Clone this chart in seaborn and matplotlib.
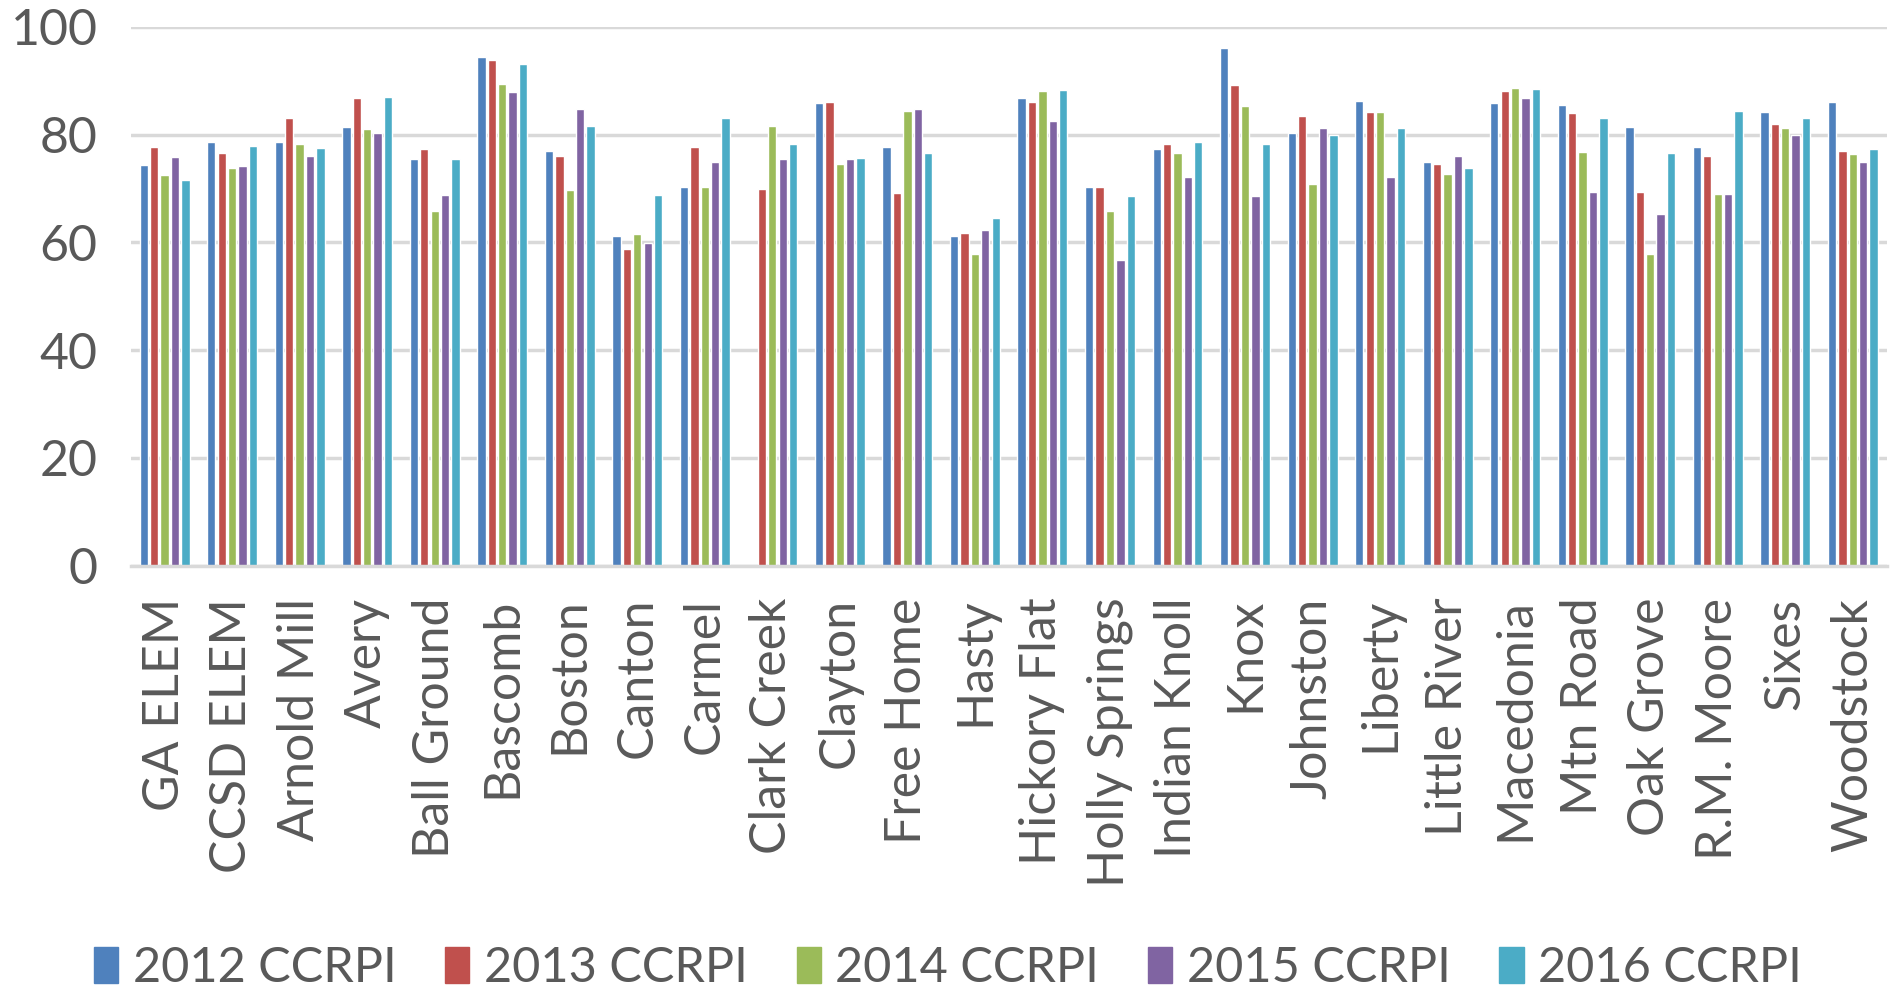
import matplotlib
matplotlib.use("Agg")
import matplotlib.pyplot as plt
import matplotlib.patches as mpatches
import seaborn as sns
import numpy as np
import pandas as pd

# schools (x axis)
schools = ["GA ELEM", "CCSD ELEM", "Arnold Mill", "Avery", "Ball Ground", "Bascomb",
           "Boston", "Canton", "Carmel", "Clark Creek", "Clayton", "Free Home",
           "Hasty", "Hickory Flat", "Holly Springs", "Indian Knoll", "Knox",
           "Johnston", "Liberty", "Little River", "Macedonia", "Mtn Road",
           "Oak Grove", "R.M. Moore", "Sixes", "Woodstock"]

years = ["2012 CCRPI", "2013 CCRPI", "2014 CCRPI", "2015 CCRPI", "2016 CCRPI"]

ccrpi_2012 = [74.4, 78.7, 78.7, 81.3, 75.5, 94.3, 77.0, 61.1, 70.3, np.nan, 85.9, 77.6,
              61.2, 86.7, 70.2, 77.3, 96.1, 80.3, 86.3, 74.9, 85.9, 85.4, 81.3, 77.6, 84.2, 86.0]
ccrpi_2013 = [77.6, 76.5, 83.1, 86.8, 77.4, 93.8, 76.1, 58.7, 77.6, 69.9, 86.0, 69.2,
              61.8, 86.1, 70.2, 78.2, 89.2, 83.5, 84.1, 74.6, 88.1, 83.9, 69.4, 76.1, 82.0, 77.0]
ccrpi_2014 = [72.5, 73.7, 78.3, 81.1, 65.8, 89.3, 69.7, 61.5, 70.3, 81.5, 74.6, 84.4,
              57.8, 88.0, 65.8, 76.6, 85.2, 70.8, 84.1, 72.7, 88.6, 76.8, 57.8, 68.9, 81.2, 76.3]
ccrpi_2015 = [75.9, 74.2, 76.1, 80.3, 68.8, 87.8, 84.7, 59.9, 74.9, 75.4, 75.4, 84.8,
              62.3, 82.5, 56.8, 72.2, 68.5, 81.2, 72.1, 76.1, 86.8, 69.4, 65.3, 68.9, 80.0, 74.9]
ccrpi_2016 = [71.6, 77.8, 77.5, 86.9, 75.5, 93.0, 81.5, 68.7, 83.0, 78.3, 75.6, 76.5,
              64.5, 88.2, 68.5, 78.7, 78.2, 80.0, 81.2, 73.7, 88.5, 83.0, 76.6, 84.4, 83.0, 77.3]

colors = ["#4F81BD", "#C0504D", "#9BBB59", "#8064A2", "#4BACC6"]

series = [ccrpi_2012, ccrpi_2013, ccrpi_2014, ccrpi_2015, ccrpi_2016]
df = pd.DataFrame({
    "school": schools * len(years),
    "year": np.repeat(years, len(schools)),
    "score": np.concatenate(series),
})

sns.set_style("white")
plt.rcParams["font.family"] = ["Lato", "DejaVu Sans"]

fig, ax = plt.subplots(figsize=(18.96, 9.89), dpi=100)
fig.subplots_adjust(left=0.069, right=0.995, top=0.973, bottom=0.428)

sns.barplot(data=df, x="school", y="score", hue="year", hue_order=years,
            order=schools, palette=colors, saturation=1, width=0.77, gap=0.2,
            errorbar=None, legend=False, ax=ax)

ax.set_ylim(0, 100)
ax.set_xlim(-0.5, len(schools) - 0.5)
ax.set_yticks(range(0, 101, 20))
ax.yaxis.grid(True, color="#D9D9D9", linewidth=2.5)
ax.set_axisbelow(True)
for s in ["top", "right", "left"]:
    ax.spines[s].set_visible(False)
ax.spines["bottom"].set_color("#D9D9D9")
ax.spines["bottom"].set_linewidth(2.5)
ax.set_xlabel("")
ax.set_ylabel("")
ax.tick_params(axis="y", length=0, labelsize=36, labelcolor="#595959", pad=24)
ax.tick_params(axis="x", length=0, labelsize=36, labelcolor="#595959", pad=23)
plt.setp(ax.get_xticklabels(), rotation=90, ha="center", va="top")

handles = [mpatches.Patch(color=c, label=y) for c, y in zip(colors, years)]
fig.legend(handles=handles, loc="lower center", bbox_to_anchor=(0.5, -0.045), ncol=5,
           frameon=False, fontsize=35, labelcolor="#595959", handlelength=0.5,
           handleheight=0.75, handletextpad=0.3, columnspacing=1.0)

fig.savefig("out.png", dpi=100)
